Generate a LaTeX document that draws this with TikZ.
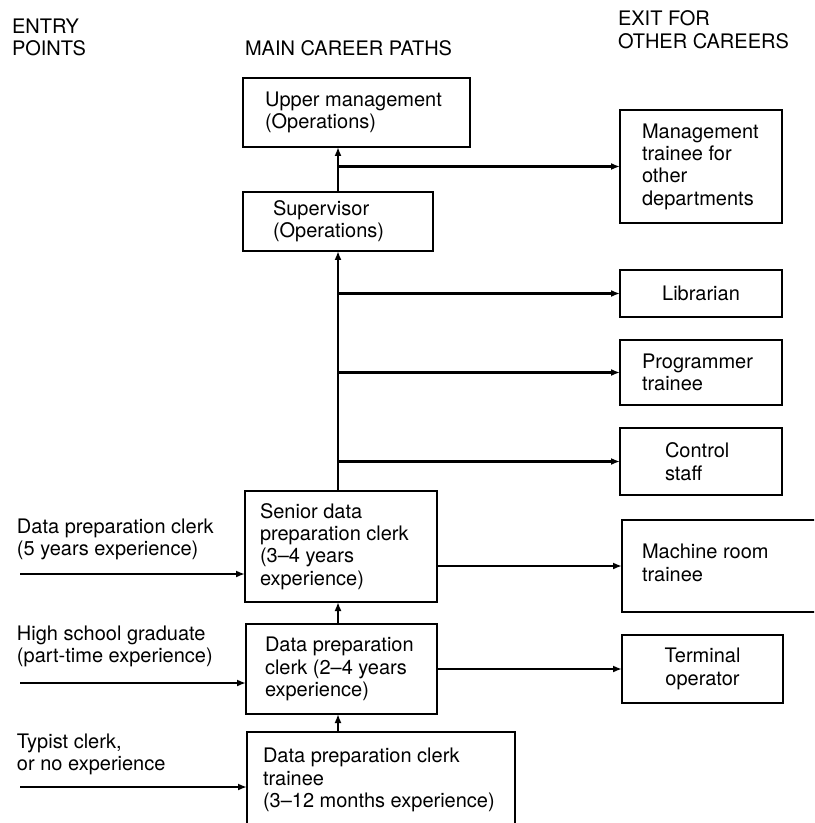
\documentclass[tikz,border=0pt]{standalone}
\usepackage{fontspec}
\setmainfont{TeX Gyre Heros}
\usetikzlibrary{arrows.meta}
\begin{document}
\begin{tikzpicture}[x=0.5pt,y=-0.5pt,
  every node/.style={font=\fontsize{10}{11.2}\selectfont, inner sep=0pt, outer sep=0pt},
  txt/.style={align=left},
  box/.style={draw, line width=1.2pt, anchor=north west},
  link/.style={line width=1.1pt, -{Latex[length=4.5pt,width=3.5pt]}}]
\useasboundingbox (0,0) rectangle (814,823);
\clip (0,0) rectangle (814,823);

% column headings
\node[txt, anchor=north west] (hentry) at (12,19) {ENTRY\\POINTS};
\node[txt, anchor=north west] (hmain) at (245,41) {MAIN CAREER PATHS};
\node[txt, anchor=north west] (hexit) at (618,11) {EXIT FOR\\OTHER CAREERS};

% main career path
\node[box, minimum width=113.5pt, minimum height=34.5pt] (up) at (243,78) {};
\node[txt, anchor=west] (upt) at ([xshift=11pt]up.west) {Upper management\\(Operations)};
\node[box, minimum width=95pt, minimum height=29.5pt] (sup) at (243,192) {};
\node[txt, anchor=west] (supt) at ([xshift=15pt]sup.west) {Supervisor\\(Operations)};
\node[box, minimum width=96pt, minimum height=55.5pt] (sen) at (245,491) {};
\node[txt, anchor=west] (sent) at ([xshift=7.5pt]sen.west) {Senior data\\preparation clerk\\(3--4 years\\experience)};
\node[box, minimum width=95.5pt, minimum height=45pt] (dp) at (246,624) {};
\node[txt, anchor=west] (dpt) at ([xshift=9.5pt]dp.west) {Data preparation\\clerk (2--4 years\\experience)};
\node[box, minimum width=134pt, minimum height=48pt] (trn) at (247,732) {};
\node[txt, anchor=west] (trnt) at ([xshift=8pt]trn.west) {Data preparation clerk\\trainee\\(3--12 months experience)};

% exits to other careers
\node[box, minimum width=81pt, minimum height=56.5pt] (mgt) at (620,110) {};
\node[txt, anchor=west] (mgtt) at ([xshift=11pt]mgt.west) {Management\\trainee for\\other\\departments};
\node[box, minimum width=81pt, minimum height=23.5pt] (lib) at (620,270) {};
\node[txt, anchor=center] (libt) at (lib.center) {Librarian};
\node[box, minimum width=81pt, minimum height=32.5pt] (prg) at (620,340) {};
\node[txt, anchor=west] (prgt) at ([xshift=11pt]prg.west) {Programmer\\trainee};
\node[box, minimum width=81pt, minimum height=33.5pt] (ctl) at (620,428) {};
\node[txt, anchor=west] (ctlt) at ([xshift=22.5pt]ctl.west) {Control\\staff};
\node[box, minimum width=105pt, minimum height=46pt] (mach) at (622,520) {};
\node[txt, anchor=west] (macht) at ([xshift=10pt,yshift=1.5pt]mach.west) {Machine room\\trainee};
\node[box, minimum width=80.5pt, minimum height=34pt] (term) at (622,635) {};
\node[align=center, anchor=center] (termt) at (term.center) {Terminal\\operator};

% entry points
\node[txt, anchor=north west] (e1t) at (17,518.5) {Data preparation clerk\\(5 years experience)};
\node[txt, anchor=north west] (e2t) at (17,625.5) {High school graduate\\(part-time experience)};
\node[txt, anchor=north west] (e3t) at (17,733.5) {Typist clerk,\\or no experience};
\coordinate (e1) at (20,574);
\coordinate (e2) at (20,683);
\coordinate (e3) at (20,787);
\draw[link] (e1) -- (e1 -| sen.west);
\draw[link] (e2) -- (e2 -| dp.west);
\draw[link] (e3) -- (e3 -| trn.west);

% promotion spine
\coordinate (spine) at (sup.south);
\draw[link] (trn.north -| spine) -- (dp.south -| spine);
\draw[link] (dp.north -| spine) -- (sen.south -| spine);
\draw[link] (sen.north -| spine) -- (sup.south);
\draw[link] (sup.north) -- (sup.north |- up.south);

% branches to other careers
\draw[link] (spine |- mgt.west) -- (mgt.west);
\draw[link] (spine |- lib.west) -- (lib.west);
\draw[link] (spine |- prg.west) -- (prg.west);
\draw[link] (spine |- ctl.west) -- (ctl.west);
\draw[link] (sen.east |- mach.west) -- (mach.west);
\draw[link] (dp.east |- term.west) -- (term.west);
\end{tikzpicture}
\end{document}
